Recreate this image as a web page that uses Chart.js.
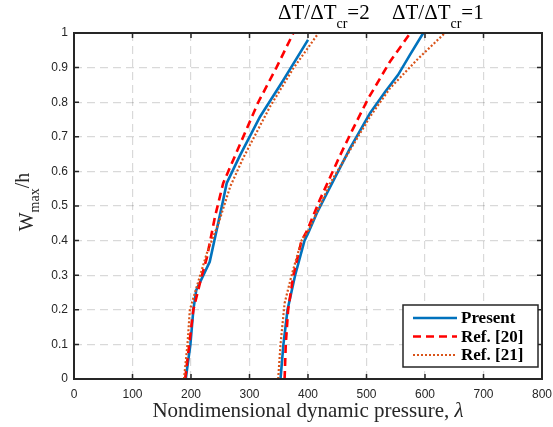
<!DOCTYPE html>
<html>
<head>
<meta charset="utf-8">
<script src="https://cdn.jsdelivr.net/npm/chart.js@4"></script>
<style>
  html, body { margin: 0; padding: 0; background: #fff; }
  #wrap { width: 553px; height: 427px; }
</style>
</head>
<body>
<div id="wrap"><canvas id="chart" width="553" height="427"></canvas></div>
<script>
// ΔT/ΔTcr = 2 branch
const presentLam2 = [191, 199, 204, 209, 232, 255, 261, 284, 318, 358, 400];
const presentW2   = [0, 0.1, 0.2, 0.257, 0.339, 0.517, 0.566, 0.647, 0.758, 0.864, 0.98];
const ref20Lam2   = [190, 197, 204, 218, 227, 241, 255, 287, 315, 346, 375];
const ref20W2     = [0, 0.1, 0.2, 0.296, 0.35, 0.469, 0.566, 0.691, 0.8, 0.9, 1.0];
const ref21Lam2   = [188, 194, 198, 215, 227, 247, 267, 289, 335, 375, 418];
const ref21W2     = [0, 0.1, 0.2, 0.296, 0.363, 0.45, 0.556, 0.638, 0.787, 0.898, 1.0];

// ΔT/ΔTcr = 1 branch
const presentLam1 = [353, 358, 365, 378, 394, 400, 415, 435, 472, 506, 532, 554, 574, 597];
const presentW1   = [0, 0.1, 0.2, 0.3, 0.4, 0.421, 0.479, 0.546, 0.667, 0.768, 0.83, 0.879, 0.936, 1.0];
const ref20Lam1   = [360, 362, 366, 375, 389, 398, 420, 455, 476, 503, 540, 575];
const ref20W1     = [0, 0.1, 0.2, 0.3, 0.4, 0.427, 0.517, 0.647, 0.72, 0.811, 0.917, 1.0];
const ref21Lam1   = [349, 353, 360, 372, 389, 400, 438, 472, 506, 540, 586, 634];
const ref21W1     = [0, 0.1, 0.219, 0.3, 0.4, 0.427, 0.566, 0.662, 0.758, 0.84, 0.922, 1.0];

const xTickValues = [0, 100, 200, 300, 400, 500, 600, 700, 800];
const yTickValues = [0, 0.1, 0.2, 0.3, 0.4, 0.5, 0.6, 0.7, 0.8, 0.9, 1];
const seriesNames = ['Present', 'Ref. [20]', 'Ref. [21]'];

const AXIS = '#262626';
const styles = [
  { color: '#0072BD', width: 2.6, dash: [], order: 3 },
  { color: '#FF0000', width: 2.6, dash: [8, 5], order: 2 },
  { color: '#D95319', width: 2.2, dash: [2, 2], order: 1 }
];

function pts(lam, w) {
  return lam.map((v, i) => ({ x: v, y: w[i] }));
}

function makeSet(idx, data, inLegend) {
  const s = styles[idx];
  return {
    label: seriesNames[idx],
    data: data,
    showLine: true,
    borderColor: s.color,
    backgroundColor: s.color,
    borderWidth: s.width,
    borderDash: s.dash,
    pointRadius: 0,
    tension: 0,
    order: s.order,
    inLegend: inLegend
  };
}

const datasets = [
  makeSet(0, pts(presentLam2, presentW2), true),
  makeSet(1, pts(ref20Lam2, ref20W2), true),
  makeSet(2, pts(ref21Lam2, ref21W2), true),
  makeSet(0, pts(presentLam1, presentW1), false),
  makeSet(1, pts(ref20Lam1, ref20W1), false),
  makeSet(2, pts(ref21Lam1, ref21W1), false)
];

// draws a run of text pieces, each with its own font and baseline shift
function drawRun(ctx, x, y, parts) {
  let cx = x;
  parts.forEach(p => {
    ctx.font = p.font;
    ctx.fillText(p.t, cx, y + (p.dy || 0));
    cx += ctx.measureText(p.t).width;
  });
  return cx - x;
}
function runWidth(ctx, parts) {
  let w = 0;
  parts.forEach(p => { ctx.font = p.font; w += ctx.measureText(p.t).width; });
  return w;
}

const SERIF = '"Liberation Serif", "Times New Roman", serif';
const SANS = '"Liberation Sans", Arial, sans-serif';

const decorations = {
  id: 'decorations',
  afterDraw(chart) {
    const { ctx, chartArea: a, scales: { x, y } } = chart;
    ctx.save();

    // inward ticks on every side
    ctx.strokeStyle = AXIS;
    ctx.lineWidth = 1.5;
    ctx.beginPath();
    xTickValues.forEach(v => {
      const px = x.getPixelForValue(v);
      ctx.moveTo(px, a.bottom); ctx.lineTo(px, a.bottom - 5);
      ctx.moveTo(px, a.top); ctx.lineTo(px, a.top + 5);
    });
    yTickValues.forEach(v => {
      const py = y.getPixelForValue(v);
      ctx.moveTo(a.left, py); ctx.lineTo(a.left + 5, py);
      ctx.moveTo(a.right, py); ctx.lineTo(a.right - 5, py);
    });
    ctx.stroke();

    // box
    ctx.lineWidth = 2;
    ctx.strokeRect(a.left, a.top, a.right - a.left, a.bottom - a.top);

    ctx.fillStyle = AXIS;
    ctx.textBaseline = 'alphabetic';
    ctx.textAlign = 'left';

    // x-axis title
    const xt = [
      { t: 'Nondimensional dynamic pressure, ', font: '21px ' + SERIF },
      { t: 'λ', font: 'italic 21px ' + SERIF }
    ];
    drawRun(ctx, 308 - runWidth(ctx, xt) / 2, 417, xt);

    // y-axis title, rotated
    const yt = [
      { t: 'W', font: '20px ' + SERIF },
      { t: 'max', font: '14px ' + SERIF, dy: 6 },
      { t: '/h', font: '20px ' + SERIF, dy: -4 }
    ];
    ctx.save();
    ctx.translate(33, 202);
    ctx.rotate(-Math.PI / 2);
    drawRun(ctx, -runWidth(ctx, yt) / 2, 0, yt);
    ctx.restore();

    // branch labels above the plot
    ctx.fillStyle = '#000';
    [['2', 278], ['1', 392]].forEach(([n, px]) => {
      drawRun(ctx, px, 19, [
        { t: 'ΔT/ΔT', font: '21px ' + SERIF },
        { t: 'cr', font: '14px ' + SERIF, dy: 9 },
        { t: '=' + n, font: '21px ' + SERIF }
      ]);
    });

    // legend box
    const lx = 403, ly = 305, lw = 135, lh = 62;
    ctx.fillStyle = '#fff';
    ctx.fillRect(lx, ly, lw, lh);
    ctx.strokeStyle = AXIS;
    ctx.lineWidth = 1.5;
    ctx.strokeRect(lx, ly, lw, lh);
    const rows = [318, 336.5, 355];
    chart.data.datasets.filter(d => d.inLegend).forEach((d, i) => {
      ctx.strokeStyle = d.borderColor;
      ctx.lineWidth = d.borderWidth;
      ctx.setLineDash(d.borderDash);
      ctx.beginPath();
      ctx.moveTo(413, rows[i]);
      ctx.lineTo(457, rows[i]);
      ctx.stroke();
      ctx.setLineDash([]);
      ctx.fillStyle = '#000';
      ctx.font = 'bold 17px ' + SERIF;
      ctx.textBaseline = 'middle';
      ctx.fillText(d.label, 461, rows[i] + 1);
    });

    ctx.restore();
  }
};

// pin the plot box: no extra room for overhanging tick labels
function pinX(s) { s.height = 48; s.paddingLeft = 0; s.paddingRight = 0; }
function pinY(s) { s.width = 74; s.paddingTop = 0; s.paddingBottom = 0; }

new Chart(document.getElementById('chart'), {
  type: 'scatter',
  data: { datasets: datasets },
  options: {
    responsive: false,
    animation: false,
    layout: { padding: { top: 33, right: 11, left: 0, bottom: 0 } },
    plugins: { legend: { display: false }, tooltip: { enabled: false } },
    scales: {
      x: {
        type: 'linear',
        min: 0, max: 800,
        afterFit: pinX,
        afterBuildTicks: s => { s.ticks = xTickValues.map(v => ({ value: v })); },
        grid: { color: 'rgba(0,0,0,0.15)', lineWidth: 1.2, drawTicks: false },
        border: { display: false, dash: [8, 5] },
        ticks: { color: AXIS, padding: 8, maxRotation: 0, font: { family: SANS, size: 12 } }
      },
      y: {
        type: 'linear',
        min: 0, max: 1,
        afterFit: pinY,
        afterBuildTicks: s => { s.ticks = yTickValues.map(v => ({ value: v })); },
        grid: { color: 'rgba(0,0,0,0.15)', lineWidth: 1.2, drawTicks: false },
        border: { display: false, dash: [8, 5] },
        ticks: { color: AXIS, padding: 6, font: { family: SANS, size: 12 },
                 callback: v => String(Number(v.toFixed(1))) }
      }
    }
  },
  plugins: [decorations]
});
</script>
</body>
</html>
